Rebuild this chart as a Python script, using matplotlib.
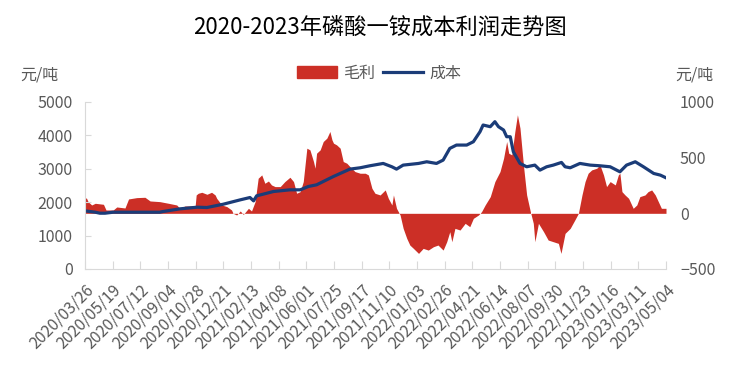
import pandas as pd
import matplotlib
matplotlib.use('Agg')
import matplotlib.pyplot as plt
import matplotlib.patches as mpatches
import matplotlib.lines as mlines

plt.rcParams['font.family'] = ['Noto Sans CJK SC', 'DejaVu Sans']

START = pd.Timestamp('2020-03-26')
END = pd.Timestamp('2023-05-04')

# 毛利 (right axis), days counted from START
profit_days = [0, 3, 6, 13, 20, 36, 41, 55, 62, 78, 85, 101, 117, 127, 146, 163, 179, 185, 195, 215,
               217, 221, 228, 238, 247, 254, 257, 267, 277, 286, 289, 296, 303, 309, 319, 325, 332, 338, 345, 351,
               358, 364, 371, 381, 390, 400, 407, 413, 420, 426, 433, 439, 446, 449, 452, 459, 465, 472, 478, 482,
               485, 491, 498, 504, 511, 517, 527, 537, 547, 553, 560, 566, 576, 586, 592, 599, 602, 608, 615, 621,
               628, 634, 641, 651, 660, 670, 680, 689, 699, 706, 712, 716, 722, 732, 742, 751, 758, 768, 774, 781,
               791, 800, 810, 817, 823, 827, 833, 839, 844, 849, 856, 862, 869, 875, 878, 885, 895, 904, 914, 924,
               929, 937, 947, 956, 963, 970, 976, 982, 989, 999, 1005, 1012, 1018, 1025, 1035, 1041, 1044, 1048, 1054, 1061,
               1070, 1077, 1083, 1093, 1099, 1106, 1113, 1119, 1125, 1134]
profit_vals = [140, 135, 105, 75, 90, 81, 30, 30, 57, 48, 129, 141, 144, 111, 105, 90, 75, 45, 66, 66,
               165, 180, 189, 171, 189, 165, 135, 75, 60, 30, 0, -15, 21, -10, 45, 21, 105, 315, 345, 270,
               290, 255, 240, 240, 285, 324, 285, 180, 195, 285, 585, 570, 465, 405, 540, 570, 645, 675, 735, 660,
               630, 615, 585, 465, 450, 420, 375, 360, 360, 345, 225, 180, 165, 210, 135, 75, 165, 45, -15, -135,
               -225, -285, -315, -360, -315, -330, -300, -285, -330, -255, -165, -255, -135, -150, -90, -120, -45, -15, 15, 75,
               150, 285, 375, 495, 645, 540, 525, 735, 885, 765, 420, 165, 20, -90, -255, -90, -165, -240, -255, -270,
               -360, -180, -135, -60, 0, 165, 285, 360, 390, 405, 435, 345, 240, 285, 255, 345, 360, 195, 165, 135,
               45, 75, 150, 165, 195, 210, 165, 105, 45, 45]

# 成本 (left axis)
cost_days = [0, 20, 29, 39, 55, 107, 146, 152, 185, 219, 238, 270, 303, 322, 329, 335, 368, 400, 420, 436,
             452, 485, 517, 537, 556, 582, 599, 608, 621, 651, 667, 686, 699, 712, 725, 745, 758, 771, 777, 791,
             800, 807, 817, 823, 830, 836, 849, 862, 878, 888, 901, 914, 930, 937, 947, 966, 986, 1005, 1025, 1044,
             1057, 1074, 1090, 1110, 1123, 1134]
cost_vals = [1740, 1700, 1670, 1670, 1700, 1700, 1700, 1720, 1800, 1850, 1840, 1940, 2070, 2140, 2040, 2190, 2320, 2370, 2370, 2470,
             2520, 2770, 2990, 3030, 3090, 3160, 3060, 2990, 3110, 3160, 3210, 3160, 3260, 3610, 3710, 3710, 3810, 4110, 4310, 4260,
             4410, 4260, 4160, 3960, 3960, 3510, 3160, 3060, 3110, 2960, 3060, 3110, 3190, 3060, 3030, 3160, 3110, 3090, 3060, 2910,
             3110, 3210, 3060, 2860, 2810, 2730]

tick_labels = ['2020/03/26', '2020/05/19', '2020/07/12', '2020/09/04', '2020/10/28', '2020/12/21',
               '2021/02/13', '2021/04/08', '2021/06/01', '2021/07/25', '2021/09/17', '2021/11/10',
               '2022/01/03', '2022/02/26', '2022/04/21', '2022/06/14', '2022/08/07', '2022/09/30',
               '2022/11/23', '2023/01/16', '2023/03/11', '2023/05/04']

RED = '#CC2F26'
BLUE = '#1B3C78'
GRAY = '#595959'
AXIS = '#D9D9D9'

profit_dates = START + pd.to_timedelta(profit_days, unit='D')
cost_dates = START + pd.to_timedelta(cost_days, unit='D')

fig = plt.figure(figsize=(7.36, 3.77), dpi=100)
ax = fig.add_axes([0.1155, 0.2865, 0.7894, 0.443])
ax2 = ax.twinx()

ax2.fill_between(profit_dates, 0, profit_vals, color=RED, linewidth=0)
ax.plot(cost_dates, cost_vals, color=BLUE, linewidth=2.3)

ax.set_zorder(ax2.get_zorder() + 1)
ax.patch.set_visible(False)

ax.set_xlim(START, END)
ax.set_ylim(0, 5000)
ax.set_yticks(range(0, 5001, 1000))
ax2.set_ylim(-500, 1000)
ax2.set_yticks([-500, 0, 500, 1000])

ticks = pd.to_datetime(tick_labels, format='%Y/%m/%d')
ax.set_xticks(ticks)
ax.set_xticklabels(tick_labels, rotation=45, ha='right', rotation_mode='anchor')

for a in (ax, ax2):
    for s in ('top', 'right'):
        a.spines[s].set_visible(False)
ax2.spines['left'].set_visible(False)
ax2.spines['bottom'].set_visible(False)
ax.spines['left'].set_color(AXIS)
ax.spines['bottom'].set_color(AXIS)

ax.tick_params(axis='x', direction='in', length=6, color=AXIS, labelcolor=GRAY, labelsize=11.5, pad=9)
ax.tick_params(axis='y', direction='in', length=4, color=AXIS, labelcolor=GRAY, labelsize=11.5, pad=9)
ax2.tick_params(axis='y', length=0, labelcolor=GRAY, labelsize=11.5, pad=10)

fig.text(0.516, 0.928, '2020-2023年磷酸一铵成本利润走势图', ha='center', va='center', fontsize=16, color='black')
fig.text(0.054, 0.801, '元/吨', ha='center', va='center', fontsize=11.5, color=GRAY)
fig.text(0.944, 0.801, '元/吨', ha='center', va='center', fontsize=11.5, color=GRAY)

handles = [mpatches.Patch(color=RED, label='毛利'),
           mlines.Line2D([], [], color=BLUE, linewidth=2.3, label='成本')]
fig.legend(handles=handles, loc='center', bbox_to_anchor=(0.515, 0.806), ncol=2, frameon=False,
           fontsize=11.5, handlelength=2.5, handletextpad=0.4, columnspacing=0.5, labelcolor=GRAY)

fig.savefig('out.png', dpi=100)
